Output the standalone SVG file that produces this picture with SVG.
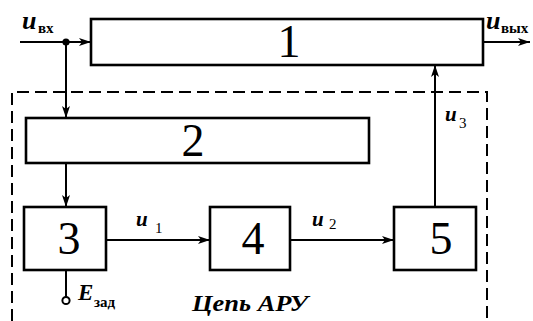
<svg xmlns="http://www.w3.org/2000/svg" width="533" height="321" viewBox="0 0 533 321">
  <style>
    .box { fill: #fff; stroke: #000; stroke-width: 2.6; }
    .wire { fill: none; stroke: #000; stroke-width: 2; }
    .dash { fill: none; stroke: #000; stroke-width: 2; stroke-dasharray: 12 6; }
    text { font-family: 'Liberation Serif', 'DejaVu Serif', 'Times New Roman', serif; fill: #000; }
    .num { font-size: 46px; text-anchor: middle; }
    .var { font-style: italic; font-weight: bold; }
  </style>
  <defs>
    <marker id="arrow" viewBox="0 0 12 8" refX="12" refY="4" markerWidth="12" markerHeight="8" markerUnits="userSpaceOnUse" orient="auto">
      <path d="M0,0 L12,4 L0,8 L3,4 Z" fill="#000"/>
    </marker>
  </defs>

  <rect width="533" height="321" fill="#fff"/>

  <!-- AGC loop boundary (open at the bottom) -->
  <path class="dash" d="M12,321 V92 H487 V321"/>

  <g id="connectors">
    <line class="wire" x1="20" y1="42" x2="91" y2="42" marker-end="url(#arrow)"/>
    <circle cx="66" cy="42" r="3.6" fill="#000"/>
    <line class="wire" x1="66" y1="42" x2="66" y2="118" marker-end="url(#arrow)"/>
    <line class="wire" x1="483" y1="42" x2="530" y2="42" marker-end="url(#arrow)"/>
    <line class="wire" x1="66" y1="163" x2="66" y2="207" marker-end="url(#arrow)"/>
    <line class="wire" x1="106" y1="240" x2="210" y2="240" marker-end="url(#arrow)"/>
    <line class="wire" x1="290" y1="240" x2="394" y2="240" marker-end="url(#arrow)"/>
    <line class="wire" x1="435" y1="207" x2="435" y2="65" marker-end="url(#arrow)"/>
    <line class="wire" x1="66" y1="270" x2="66" y2="297"/>
    <circle cx="66" cy="300.5" r="3.6" fill="#fff" stroke="#000" stroke-width="2"/>
  </g>

  <g id="block1">
    <rect class="box" x="91" y="19" width="392" height="46"/>
    <text class="num" x="289" y="57">1</text>
  </g>
  <g id="block2">
    <rect class="box" x="26" y="118" width="343" height="45"/>
    <text class="num" x="193" y="156">2</text>
  </g>
  <g id="block3">
    <rect class="box" x="24" y="207" width="82" height="63"/>
    <text class="num" x="69" y="254">3</text>
  </g>
  <g id="block4">
    <rect class="box" x="210" y="207" width="80" height="63"/>
    <text class="num" x="253" y="254">4</text>
  </g>
  <g id="block5">
    <rect class="box" x="394" y="207" width="82" height="63"/>
    <text class="num" x="441" y="254">5</text>
  </g>

  <g id="labels">
    <text class="var" x="22" y="29" font-size="26">u</text>
    <text x="38" y="33" font-size="15" font-weight="bold">вх</text>
    <text class="var" x="486" y="29" font-size="26">u</text>
    <text x="501" y="33" font-size="15" font-weight="bold">вых</text>
    <text class="var" x="136" y="226" font-size="21">u</text>
    <text x="155" y="233" font-size="15">1</text>
    <text class="var" x="312" y="226" font-size="21">u</text>
    <text x="329" y="229" font-size="15">2</text>
    <text class="var" x="445" y="121" font-size="21">u</text>
    <text x="459" y="128" font-size="15">3</text>
    <text class="var" x="78" y="300" font-size="23">E</text>
    <text x="94" y="307" font-size="15" font-weight="bold">зад</text>
    <text class="var" x="192" y="311" font-size="24" textLength="116" lengthAdjust="spacingAndGlyphs">Цепь АРУ</text>
  </g>
</svg>
